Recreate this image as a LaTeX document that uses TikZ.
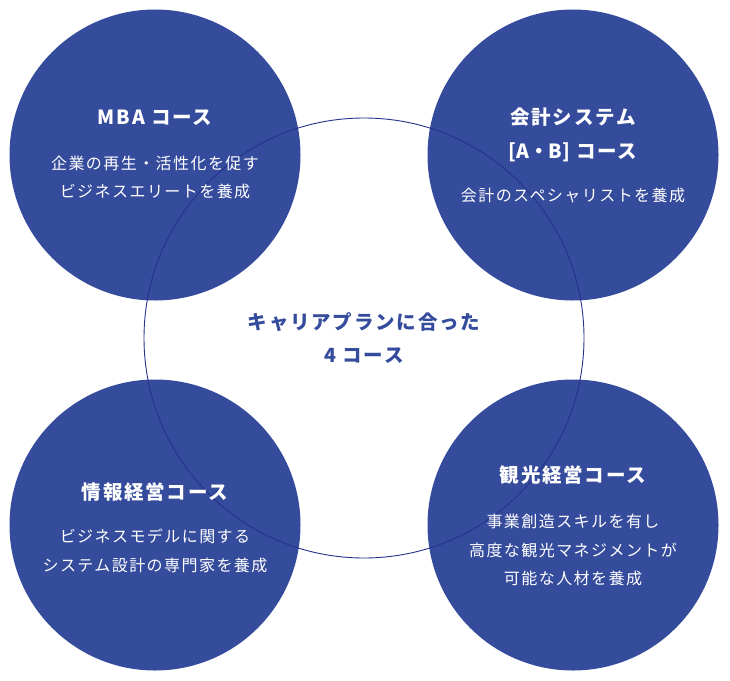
\documentclass[tikz,border=0pt]{standalone}
\usepackage{fontspec}
\setmainfont{Noto Sans CJK JP}
\newfontfamily\spacedfont[LetterSpace=9]{Noto Sans CJK JP}
\definecolor{courseblue}{RGB}{53,75,156}
\definecolor{ringblue}{RGB}{36,50,140}

\begin{document}
\begin{tikzpicture}[x=1pt,y=-1pt,
    course/.style={circle,fill=courseblue,minimum size=291pt,inner sep=0pt},
    ring/.style={circle,draw=ringblue,line width=0.9pt,minimum size=440pt,inner sep=0pt},
    title/.style={text=white,font=\spacedfont\bfseries\fontsize{19.5}{34}\selectfont,align=center,inner sep=0pt},
    desc/.style={text=white,font=\spacedfont\fontsize{16}{28.5}\selectfont,align=center,inner sep=0pt},
    plantext/.style={text=courseblue,font=\spacedfont\bfseries\fontsize{19.5}{33}\selectfont,align=center,inner sep=0pt}]
   \useasboundingbox (0,0) rectangle (730,680);
   % the four courses
   \node[course] (mba) at (155,155) {};
   \node[course] (acc) at (573,155) {};
   \node[course] (info) at (155,525) {};
   \node[course] (tour) at (573,525) {};
   % the plan ring on top
   \node[ring] (plan) at (364,338) {};
   \node[plantext] (planT) at (364,338) {キャリアプランに合った\\4 コース};
   % texts
   \node[title] (mbaT) at (155,118) {MBA コース};
   \node[desc] (mbaD) at (155,177.5) {企業の再生・活性化を促す\\ビジネスエリートを養成};
   \node[title] (accT) at (573,135) {会計システム\\{\addfontfeature{LetterSpace=0}[A・B]} コース};
   \node[desc] (accD) at (573,195) {会計のスペシャリストを養成};
   \node[title] (infoT) at (155,492) {情報経営コース};
   \node[desc] (infoD) at (155,551) {ビジネスモデルに関する\\システム設計の専門家を養成};
   \node[title] (tourT) at (573,475) {観光経営コース};
   \node[desc] (tourD) at (573,550) {事業創造スキルを有し\\高度な観光マネジメントが\\可能な人材を養成};
\end{tikzpicture}
\end{document}
